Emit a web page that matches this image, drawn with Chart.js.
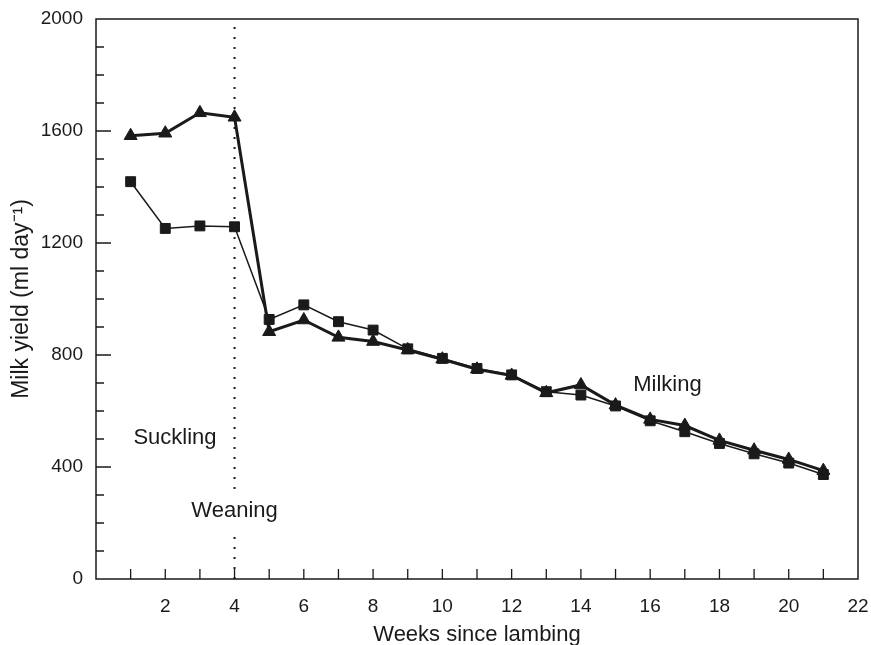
<!DOCTYPE html>
<html lang="en">
<head>
  <meta charset="UTF-8">
  <title>Milk yield</title>
  <script src="https://cdn.jsdelivr.net/npm/chart.js"></script>
  <style>
    body { margin: 0; background: #fff; }
    #grafico { display: block; }
  </style>
</head>
<body>
  <canvas id="grafico" width="871" height="645"></canvas>

<script>
  // dados
  const semanas = [1, 2, 3, 4, 5, 6, 7, 8, 9, 10, 11, 12, 13, 14, 15, 16, 17, 18, 19, 20, 21];
  const serieQuadrado = [1419, 1252, 1261, 1258, 927, 979, 919, 889, 822, 788, 752, 729, 669, 657, 618, 565, 526, 484, 447, 414, 373];
  const serieTriangulo = [1583, 1592, 1665, 1649, 883, 925, 863, 848, 818, 785, 749, 727, 665, 693, 621, 570, 548, 495, 460, 427, 387];

  const desmameX = [4, 4];
  const desmameY = [0, 2000];

  const textos = ['Suckling', 'Weaning', 'Milking'];
  const textosX = [2.28, 4, 16.5];
  const textosY = [503, 243, 693];

  const fonte = "'Liberation Sans', Arial, sans-serif";
  const cor = '#1a1a1a';

  const pontos = (xs, ys) => xs.map((x, i) => ({ x: x, y: ys[i] }));

  // ticks para dentro + moldura
  const molduraPlugin = {
    id: 'moldura',
    afterDraw(chart) {
      const { ctx, chartArea: a } = chart;
      const sx = chart.scales.x;
      const sy = chart.scales.y;
      ctx.save();
      ctx.strokeStyle = cor;
      ctx.lineWidth = 1.5;
      ctx.strokeRect(a.left, a.top, a.right - a.left, a.bottom - a.top);
      ctx.lineWidth = 1.3;
      ctx.beginPath();
      sx.ticks.forEach(t => {
        if (t.value <= sx.min || t.value >= sx.max) return;
        const px = sx.getPixelForValue(t.value);
        ctx.moveTo(px, a.bottom);
        ctx.lineTo(px, a.bottom - 10);
      });
      sy.ticks.forEach(t => {
        if (t.value <= sy.min || t.value >= sy.max) return;
        const py = sy.getPixelForValue(t.value);
        const len = t.value % 400 === 0 ? 15 : 8;
        ctx.moveTo(a.left, py);
        ctx.lineTo(a.left + len, py);
      });
      ctx.stroke();
      ctx.restore();
    }
  };

  const textoPlugin = {
    id: 'textos',
    afterDatasetsDraw(chart) {
      const { ctx } = chart;
      const sx = chart.scales.x;
      const sy = chart.scales.y;
      ctx.save();
      ctx.font = '22px ' + fonte;
      ctx.textAlign = 'center';
      ctx.textBaseline = 'middle';
      textos.forEach((t, i) => {
        const px = sx.getPixelForValue(textosX[i]);
        const py = sy.getPixelForValue(textosY[i]);
        if (t === 'Weaning') {
          const w = ctx.measureText(t).width;
          ctx.fillStyle = '#fff';
          ctx.fillRect(px - w / 2 - 2, py - 19, w + 4, 38);
        }
        ctx.fillStyle = cor;
        ctx.fillText(t, px, py);
      });
      ctx.restore();
    }
  };

  new Chart(document.getElementById('grafico'), {
    type: 'line',
    data: {
      datasets: [{
        label: 'Triangle',
        data: pontos(semanas, serieTriangulo),
        borderColor: cor,
        backgroundColor: cor,
        borderWidth: 3,
        pointStyle: 'triangle',
        pointRadius: 7.5,
        pointBorderWidth: 1,
        order: 1
      }, {
        label: 'Square',
        data: pontos(semanas, serieQuadrado),
        borderColor: cor,
        backgroundColor: cor,
        borderWidth: 1.5,
        pointStyle: 'rect',
        pointRadius: 7,
        pointBorderWidth: 1,
        order: 2
      }, {
        label: 'Weaning',
        data: pontos(desmameX, desmameY),
        borderColor: cor,
        borderWidth: 2,
        borderDash: [2, 8],
        pointRadius: 0,
        order: 3
      }]
    },
    options: {
      responsive: false,
      animation: false,
      layout: { padding: { top: 19, right: 13, left: 0, bottom: 0 } },
      plugins: {
        legend: { display: false },
        tooltip: { enabled: false }
      },
      scales: {
        x: {
          type: 'linear',
          min: 0,
          max: 22,
          grid: { display: false, drawTicks: false },
          border: { display: false },
          afterFit(scale) {
            scale.height = 66;
            scale.paddingLeft = 0;
            scale.paddingRight = 0;
          },
          ticks: {
            stepSize: 1,
            autoSkip: false,
            maxRotation: 0,
            padding: 16,
            color: cor,
            font: { family: fonte, size: 19 },
            callback: v => (v > 0 && v % 2 === 0) ? v : ''
          },
          title: {
            display: true,
            text: 'Weeks since lambing',
            color: cor,
            font: { family: fonte, size: 22 },
            padding: { top: 0, bottom: -3 }
          }
        },
        y: {
          min: 0,
          max: 2000,
          grid: { display: false, drawTicks: false },
          border: { display: false },
          afterFit(scale) {
            scale.width = 96;
            scale.paddingTop = 0;
            scale.paddingBottom = 0;
          },
          ticks: {
            stepSize: 100,
            autoSkip: false,
            padding: 13,
            color: cor,
            font: { family: fonte, size: 19 },
            callback: v => v % 400 === 0 ? v : ''
          },
          title: {
            display: true,
            text: 'Milk yield (ml day\u207B\u00B9)',
            color: cor,
            font: { family: fonte, size: 23 },
            padding: { top: 8, bottom: 0 }
          }
        }
      }
    },
    plugins: [molduraPlugin, textoPlugin]
  });
</script>
</body>
</html>
